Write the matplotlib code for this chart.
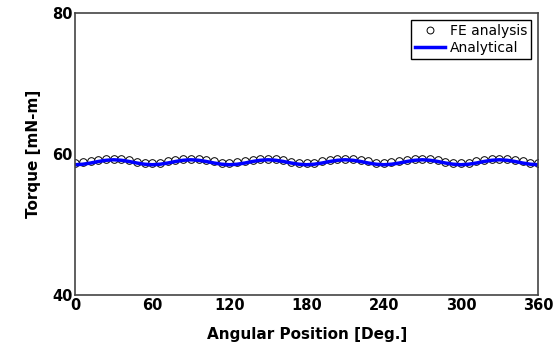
import matplotlib.pyplot as plt

# Angular position (deg) and torque (mN-m)
angle = [0, 6, 12, 18, 24, 30, 36, 42, 48, 54,
         60, 66, 72, 78, 84, 90, 96, 102, 108, 114,
         120, 126, 132, 138, 144, 150, 156, 162, 168, 174,
         180, 186, 192, 198, 204, 210, 216, 222, 228, 234,
         240, 246, 252, 258, 264, 270, 276, 282, 288, 294,
         300, 306, 312, 318, 324, 330, 336, 342, 348, 354, 360]

fe_torque = [58.75, 58.82, 58.96, 59.14, 59.28, 59.35, 59.30, 59.14, 58.95, 58.81,
             58.76, 58.81, 58.97, 59.13, 59.29, 59.36, 59.29, 59.15, 58.96, 58.80,
             58.75, 58.82, 58.96, 59.14, 59.28, 59.35, 59.30, 59.14, 58.95, 58.81,
             58.76, 58.81, 58.97, 59.13, 59.29, 59.36, 59.29, 59.15, 58.96, 58.80,
             58.75, 58.82, 58.96, 59.14, 59.28, 59.35, 59.30, 59.14, 58.95, 58.81,
             58.76, 58.81, 58.97, 59.13, 59.29, 59.36, 59.29, 59.15, 58.96, 58.80, 58.75]

an_torque = [58.50, 58.57, 58.74, 58.96, 59.13, 59.20, 59.13, 58.96, 58.74, 58.57,
             58.50, 58.57, 58.74, 58.96, 59.13, 59.20, 59.13, 58.96, 58.74, 58.57,
             58.50, 58.57, 58.74, 58.96, 59.13, 59.20, 59.13, 58.96, 58.74, 58.57,
             58.50, 58.57, 58.74, 58.96, 59.13, 59.20, 59.13, 58.96, 58.74, 58.57,
             58.50, 58.57, 58.74, 58.96, 59.13, 59.20, 59.13, 58.96, 58.74, 58.57,
             58.50, 58.57, 58.74, 58.96, 59.13, 59.20, 59.13, 58.96, 58.74, 58.57, 58.50]

xticks = [0, 60, 120, 180, 240, 300, 360]
yticks = [40, 60, 80]

fig = plt.figure(figsize=(5.57, 3.56), dpi=100)
ax = fig.add_axes([0.135, 0.171, 0.831, 0.792])

ax.plot(angle, fe_torque, 'o', mfc='white', mec='black', ms=5.5, mew=0.7, label='FE analysis')
ax.plot(angle, an_torque, color='blue', lw=2.5, label='Analytical')

ax.set_xlim(0, 360)
ax.set_ylim(40, 80)
ax.set_xticks(xticks)
ax.set_yticks(yticks)
ax.tick_params(length=0, labelsize=10.5, pad=2)
for lbl in ax.get_xticklabels() + ax.get_yticklabels():
    lbl.set_fontweight('bold')
for s in ax.spines.values():
    s.set_color('#444444')
    s.set_linewidth(1.2)

ax.set_xlabel('Angular Position [Deg.]', fontsize=11, fontweight='bold', labelpad=10)
ax.set_ylabel('Torque [mN-m]', fontsize=11, fontweight='bold', labelpad=8)

leg = ax.legend(loc='upper right', fontsize=10, fancybox=False, framealpha=1,
                edgecolor='black', borderpad=0.3, handlelength=2.2, handletextpad=0.3,
                labelspacing=0.2, borderaxespad=0.5, markerscale=0.9)
leg.get_frame().set_linewidth(1.0)

fig.savefig('out.png', dpi=100)
